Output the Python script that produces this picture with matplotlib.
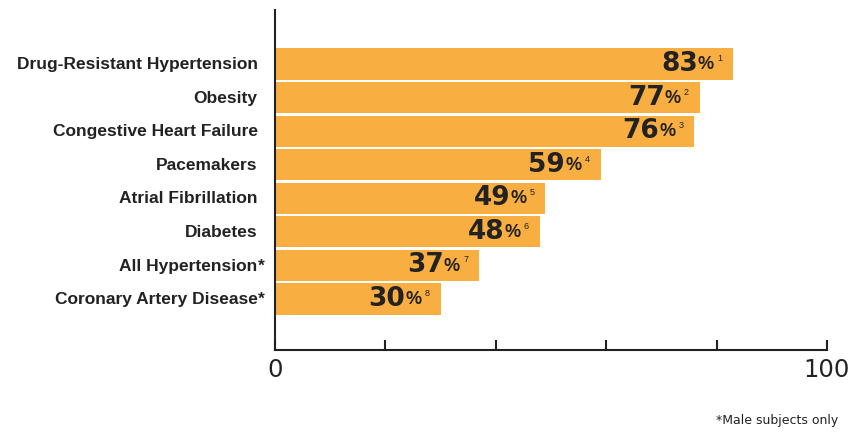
import matplotlib.pyplot as plt
import matplotlib.transforms as mtransforms

# data
categories = ['Drug-Resistant Hypertension', 'Obesity', 'Congestive Heart Failure',
              'Pacemakers', 'Atrial Fibrillation', 'Diabetes', 'All Hypertension',
              'Coronary Artery Disease']
starred = [False, False, False, False, False, False, True, True]
values = [83, 77, 76, 59, 49, 48, 37, 30]
refs = ['1', '2', '3', '4', '5', '6', '7', '8']

bar_color = '#F9AE42'
txt_color = '#222222'

plt.rcParams['font.family'] = ['Liberation Sans', 'DejaVu Sans']

fig = plt.figure(figsize=(8.55, 4.33), dpi=100)
ax = fig.add_axes([0.3216, 0.1917, 0.6456, 0.7853])

pos = list(range(len(categories)))
ax.barh(pos, values, height=0.93, color=bar_color, edgecolor='none')

ax.set_xlim(0, 100)
ax.set_ylim(8.52, -1.61)

# value labels with little superscript reference numbers
for y, v, r in zip(pos, values, refs):
    ax.annotate(f'{v}', xy=(v, y), xytext=(-25.5, 0), textcoords='offset points',
                ha='right', va='center', fontsize=19, fontweight='heavy',
                family='DejaVu Sans', color=txt_color)
    ax.annotate('%', xy=(v, y), xytext=(-25.5, -0.5), textcoords='offset points',
                ha='left', va='center', fontsize=13, fontweight='bold',
                color=txt_color)
    ax.annotate(r, xy=(v, y), xytext=(-8, 4), textcoords='offset points',
                ha='right', va='center', fontsize=6.5, color=txt_color)

# category labels, asterisk hangs past the right edge
trans = mtransforms.blended_transform_factory(ax.transAxes, ax.transData)
for y, c, s in zip(pos, categories, starred):
    ax.annotate(c, xy=(0, y), xycoords=trans, xytext=(-12.5, -0.5),
                textcoords='offset points', ha='right', va='center',
                fontsize=12.5, fontweight='bold', color=txt_color)
    if s:
        ax.annotate('*', xy=(0, y), xycoords=trans, xytext=(-12.5, -0.5),
                    textcoords='offset points', ha='left', va='center',
                    fontsize=12.5, fontweight='bold', color=txt_color)
ax.set_yticks([])

ax.set_xticks([0, 20, 40, 60, 80, 100])
ax.set_xticklabels(['0', '', '', '', '', '100'], fontsize=17.5, color=txt_color,
                   family='DejaVu Sans')
ax.tick_params(axis='x', direction='in', length=7, width=1.5, color=txt_color, pad=6)

for s in ['top', 'right']:
    ax.spines[s].set_visible(False)
for s in ['left', 'bottom']:
    ax.spines[s].set_linewidth(1.5)
    ax.spines[s].set_color(txt_color)

fig.text(0.98, 0.028, '*Male subjects only', ha='right', va='center', fontsize=9,
         color=txt_color, family='DejaVu Sans')

plt.savefig('out.png', dpi=100)
